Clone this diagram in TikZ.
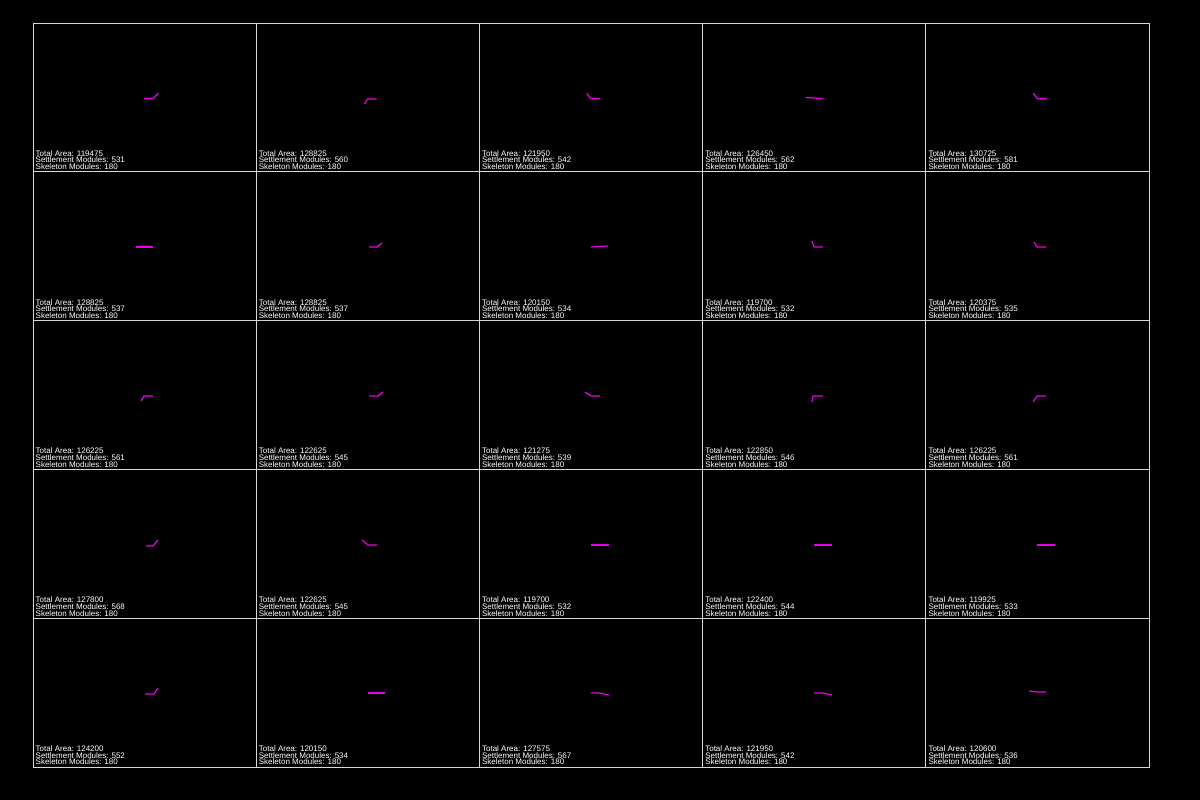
\documentclass[tikz,border=0pt]{standalone}
\usepackage{fontspec}
\setmainfont{Liberation Sans}
\definecolor{gridgray}{RGB}{215,215,215}
\definecolor{plotmag}{RGB}{235,0,235}
\begin{document}
\begin{tikzpicture}[x=1pt,y=-1pt,
  cell/.style={draw=gridgray, line width=0.8pt},
  info/.style={anchor=base west, inner sep=0pt, align=left, text=white,
    font=\fontsize{8}{6.7}\selectfont},
  route/.style={draw=plotmag, line width=1.2pt, line join=round}]
\fill[black] (0,0) rectangle (1200,800);
\useasboundingbox (0,0) rectangle (1200,800);
% grid cells
\foreach \r in {1,...,5}{
  \foreach \c in {1,...,5}{
    \draw[cell] ({33+(\c-1)*223.2},{23+(\r-1)*148.8}) rectangle ++(223.2,148.8);
  }
}
% labels
\foreach \r/\c/\a/\s in {
  1/1/119475/531, 1/2/128825/560, 1/3/121950/542, 1/4/126450/562, 1/5/130725/581,
  2/1/128825/537, 2/2/128825/537, 2/3/120150/534, 2/4/119700/532, 2/5/120375/535,
  3/1/126225/561, 3/2/122625/545, 3/3/121275/539, 3/4/122850/546, 3/5/126225/561,
  4/1/127800/568, 4/2/122625/545, 4/3/119700/532, 4/4/122400/544, 4/5/119925/533,
  5/1/124200/552, 5/2/120150/534, 5/3/127575/567, 5/4/121950/542, 5/5/120600/536}{
  \node[info] (t-\r-\c) at ({35.5+(\c-1)*223.2},{23+146.6+(\r-1)*148.8})
    {Total Area: \a\\Settlement Modules: \s\\Skeleton Modules: 180};
}
% row 1
\draw[route] (144,98.5) -- (153,98.5) -- (158.5,93.3);
\draw[route] (364.5,104) -- (367.5,99) -- (376.5,99);
\draw[route] (586.7,93.3) -- (590.7,98.7) -- (600,98.7);
\draw[route] (805.7,97.5) -- (823.3,98.7);
\draw[route] (1033.3,93.3) -- (1037.3,98.7) -- (1046.7,98.7);
% row 2
\draw[route] (136,247) -- (153,247);
\draw[route] (369,247) -- (377,247) -- (382,243);
\draw[route] (591,247) -- (608,246);
\draw[route] (812,241) -- (814,247) -- (823,247);
\draw[route] (1034,242) -- (1037,247) -- (1046,247);
% row 3
\draw[route] (141,401) -- (144,396) -- (153,396);
\draw[route] (369,396) -- (378,396) -- (383,392);
\draw[route] (585,392) -- (591,396) -- (600,396);
\draw[route] (812,402) -- (813,396) -- (823,396);
\draw[route] (1033,402) -- (1037,396) -- (1046,396);
% row 4
\draw[route] (146,546) -- (153,546) -- (158,540);
\draw[route] (362,540) -- (368,545) -- (377,545);
\draw[route] (591,545) -- (609,545);
\draw[route] (814,545) -- (832,545);
\draw[route] (1037,545) -- (1055,545);
% row 5
\draw[route] (145,694) -- (154,694) -- (158,688);
\draw[route] (368,693) -- (385,693);
\draw[route] (591,693) -- (600,693) -- (609,695);
\draw[route] (814,693) -- (823,693) -- (832,695);
\draw[route] (1029,691) -- (1037,692) -- (1046,692);
\end{tikzpicture}
\end{document}
